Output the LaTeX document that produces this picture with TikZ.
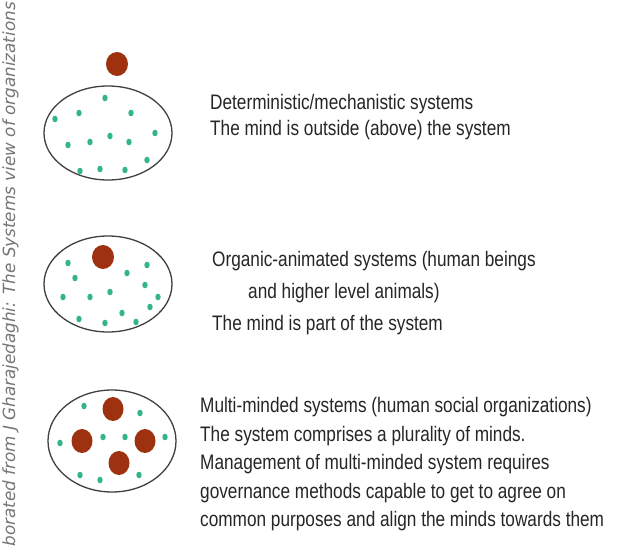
\documentclass[tikz,border=0pt]{standalone}
\usepackage{fontspec}
\setmainfont{Liberation Sans}[FakeStretch=0.82]
\newfontfamily\sidefont{DejaVu Sans}
\definecolor{mindc}{HTML}{9E3210}
\definecolor{dotc}{HTML}{33B58C}
\definecolor{rimc}{HTML}{404040}
\definecolor{txtc}{HTML}{262626}
\definecolor{sidec}{HTML}{767676}
\tikzset{
  rim/.style={draw=rimc, line width=1.3pt, fill=white},
  mindblob/.style={fill=mindc},
  seed/.style={fill=dotc},
  caption/.style={anchor=base west, inner sep=0pt, text=txtc, font=\fontsize{21}{24}\selectfont},
}
\begin{document}
\begin{tikzpicture}[x=1pt,y=-1pt]
\path[use as bounding box] (0,0) rectangle (626,546);
\clip (0,0) rectangle (626,546);
\fill[white] (0,0) rectangle (626,546);

% side credit
\node[rotate=90, anchor=east, inner sep=0pt, text=sidec, font=\sidefont\itshape\fontsize{16.8}{18}\selectfont] (credit) at (10.5,2) {Elaborated from J Gharajedaghi: The Systems view of organizations};

% system 1
\path[rim] (108,133) ellipse [x radius=64pt, y radius=47pt];
\fill[mindblob] (117,64) ellipse [x radius=11pt, y radius=12pt];
\foreach \p in {(105,98),(79,113),(131,113),(55,119),(155,133),(110,136),(90,142),(129,142),(68,145),(147,160),(80,171),(100,169),(125,170)}
  \fill[seed] \p ellipse [x radius=2.7pt, y radius=3.3pt];

% system 2
\path[rim] (108,284) ellipse [x radius=64pt, y radius=48pt];
\fill[mindblob] (103,257) ellipse [x radius=11pt, y radius=12pt];
\foreach \p in {(68,263),(75,278),(147,265),(127,273),(145,285),(158,297),(63,297),(90,297),(110,292),(150,307),(122,313),(79,319),(105,323),(136,322)}
  \fill[seed] \p ellipse [x radius=2.7pt, y radius=3.3pt];

% system 3
\path[rim] (112,441) ellipse [x radius=64pt, y radius=51pt];
\foreach \p in {(113,409),(82,441),(145,441),(119,463)}
  \fill[mindblob] \p ellipse [x radius=10.5pt, y radius=12pt];
\foreach \p in {(84,406),(140,413),(60,443),(103,437),(125,437),(165,437),(80,475),(100,480),(139,475)}
  \fill[seed] \p ellipse [x radius=2.7pt, y radius=3.3pt];

% captions
\node[caption] (t1a) at (210,109) {Deterministic/mechanistic systems};
\node[caption] (t1b) at (210,135) {The mind is outside (above) the system};

\node[caption] (t2a) at (212,266) {Organic-animated systems (human beings};
\node[caption] (t2b) at (248,298) {and higher level animals)};
\node[caption] (t2c) at (212,330) {The mind is part of the system};

\node[caption] (t3a) at (200,412) {Multi-minded systems (human social organizations)};
\node[caption] (t3b) at (200,441) {The system comprises a plurality of minds.};
\node[caption] (t3c) at (200,469) {Management of multi-minded system requires};
\node[caption] (t3d) at (200,498) {governance methods capable to get to agree on};
\node[caption] (t3e) at (200,526) {common purposes and align the minds towards them};
\end{tikzpicture}
\end{document}
